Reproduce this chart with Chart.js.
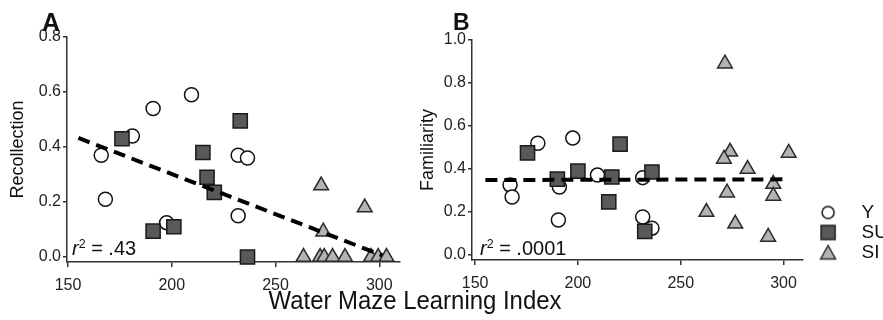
<!DOCTYPE html>
<html><head><meta charset="utf-8">
<script src="https://cdn.jsdelivr.net/npm/chart.js@4.4.0/dist/chart.umd.min.js"></script>
<style>
html,body{margin:0;padding:0;width:883px;height:320px;overflow:hidden;background:#fff;font-family:"Liberation Sans",Arial,sans-serif;}
#wrap{position:relative;width:883px;height:320px;overflow:hidden;}
canvas{position:absolute;top:0;}
#cA{left:0;}
#cB{left:410px;}
.lbl{position:absolute;color:#111;white-space:nowrap;line-height:1;}
sup{font-size:0.62em;vertical-align:0.55em;line-height:0;}
</style></head><body>
<div id="wrap">
<canvas id="cA" width="420" height="320"></canvas>
<canvas id="cB" width="490" height="320"></canvas>
<div class="lbl" style="left:42px;top:10px;font-size:25px;font-weight:bold">A</div>
<div class="lbl" style="left:453px;top:11px;font-size:23px;font-weight:bold">B</div>
<div class="lbl" style="left:72px;top:238px;font-size:20px"><i>r</i><sup>2</sup> = .43</div>
<div class="lbl" style="left:480px;top:238px;font-size:20px"><i>r</i><sup>2</sup> = .0001</div>
<div class="lbl" style="left:415px;top:287px;font-size:26px;transform:translateX(-50%) scaleX(0.92);">Water Maze Learning Index</div>
</div>
<script>
// ---- data ----
const groupNames = ['Y', 'SU', 'SI'];
const xTicks = [150, 200, 250, 300];
const yTicksA = [0, 0.2, 0.4, 0.6, 0.8];
const yTicksB = [0, 0.2, 0.4, 0.6, 0.8, 1.0];

// Panel A: Recollection
const yA_x  = [166, 168, 181, 191, 197.5, 209.5, 232, 236.5, 232];
const yA_y  = [0.37, 0.21, 0.44, 0.54, 0.125, 0.59, 0.37, 0.36, 0.15];
const suA_x = [176, 191, 201, 215, 217, 220.5, 233, 236.5];
const suA_y = [0.43, 0.094, 0.11, 0.38, 0.29, 0.235, 0.495, 0.0];
const siA_x = [272, 293, 273, 263.5, 271.5, 273.5, 277.5, 283.5, 296, 299.5, 303.5];
const siA_y = [0.26, 0.18, 0.092, 0, 0, 0, 0, 0, 0, 0, 0];
const fitA_x = [155, 301.5];
const fitA_y = [0.433, 0.006];

// Panel B: Familiarity
const yB_x  = [167, 168, 180.5, 197.5, 191, 190.5, 209.5, 231.5, 231.5, 236];
const yB_y  = [0.326, 0.27, 0.52, 0.544, 0.316, 0.163, 0.372, 0.36, 0.177, 0.125];
const suB_x = [175.5, 190, 200, 216.5, 215, 220.5, 236, 232.5];
const suB_y = [0.475, 0.353, 0.39, 0.363, 0.247, 0.516, 0.386, 0.11];
const siB_x = [271.5, 274, 271, 302.5, 282.5, 272.5, 295, 295, 262.5, 276.5, 292.5];
const siB_y = [0.89, 0.48, 0.447, 0.475, 0.40, 0.29, 0.33, 0.275, 0.20, 0.145, 0.084];
const fitB_x = [155, 301];
const fitB_y = [0.349, 0.352];

// ---- helpers ----
const FONT = "'Liberation Sans', Arial, sans-serif";
Chart.defaults.font.family = FONT;
const pts = (xs, ys) => xs.map((x, i) => ({x: x, y: ys[i]}));

const styles = {
  Y:  {pointStyle: 'circle',   radius: 7,   bg: '#ffffff', border: '#111111'},
  SU: {pointStyle: 'rect',     radius: 10,  bg: '#595959', border: '#1a1a1a'},
  SI: {pointStyle: 'triangle', radius: 8.5, bg: '#b3b3b3', border: '#2a2a2a'}
};

function scatterSet(name, data, order) {
  const s = styles[name];
  return {
    type: 'scatter', label: name, data: data, order: order, clip: false,
    pointStyle: s.pointStyle, pointRadius: s.radius, pointHoverRadius: s.radius,
    pointBackgroundColor: s.bg, pointBorderColor: s.border, pointBorderWidth: 1.5,
    backgroundColor: s.bg, borderColor: s.border
  };
}
function fitSet(data) {
  return {
    type: 'line', label: 'fit', data: data, order: 0, clip: false, showLine: true,
    borderColor: '#000', borderWidth: 4, borderDash: [12, 7], pointRadius: 0, fill: false
  };
}
function fixedTicks(arr) { return function(scale) { scale.ticks = arr.map(v => ({value: v})); }; }

function makeScales(xMin, xMax, yMin, yMax, yTicks, yTitle, yWidth, xHeight) {
  return {
    x: {
      type: 'linear', min: xMin, max: xMax,
      afterBuildTicks: fixedTicks(xTicks),
      afterFit: s => { s.height = xHeight; },
      grid: {drawOnChartArea: false, drawTicks: true, tickLength: 5, color: '#333', lineWidth: 1.5},
      border: {display: true, color: '#333', width: 1.5},
      ticks: {padding: 9, color: '#222', font: {family: FONT, size: 16}, maxRotation: 0, autoSkip: false,
              callback: v => String(v)}
    },
    y: {
      type: 'linear', min: yMin, max: yMax,
      afterBuildTicks: fixedTicks(yTicks),
      afterFit: s => { s.width = yWidth; },
      grid: {drawOnChartArea: false, drawTicks: true, tickLength: 4, color: '#333', lineWidth: 1.5},
      border: {display: true, color: '#333', width: 1.5},
      ticks: {padding: 2, color: '#222', font: {family: FONT, size: 16}, autoSkip: false,
              callback: v => Number(v).toFixed(1)},
      title: {display: true, text: yTitle, color: '#111', font: {family: FONT, size: 18}, padding: {top: 7, bottom: 0}}
    }
  };
}

// legend marker images
function markerImg(kind) {
  const c = document.createElement('canvas');
  c.width = 18; c.height = 18;
  const g = c.getContext('2d');
  g.lineWidth = 1.5;
  const s = styles[kind];
  g.fillStyle = s.bg; g.strokeStyle = s.border;
  g.beginPath();
  if (kind === 'Y') { g.arc(9, 9, 6, 0, Math.PI * 2); }
  else if (kind === 'SU') { g.rect(2, 2, 14, 14); }
  else { g.moveTo(9, 2); g.lineTo(16.5, 15.5); g.lineTo(1.5, 15.5); g.closePath(); }
  g.fill(); g.stroke();
  return c;
}
const legendImgs = groupNames.map(markerImg);

// small vertical nudge of the legend block
const legendNudge = {
  id: 'legendNudge',
  afterLayout(chart) {
    const l = chart.legend;
    if (l && chart.options.plugins.legend.display) { l.top += 3; l.bottom += 3; }
  }
};

// ---- Chart A ----
new Chart(document.getElementById('cA'), {
  type: 'scatter',
  data: {datasets: [
    fitSet(pts(fitA_x, fitA_y)),
    scatterSet('Y', pts(yA_x, yA_y), 3),
    scatterSet('SU', pts(suA_x, suA_y), 2),
    scatterSet('SI', pts(siA_x, siA_y), 1)
  ]},
  options: {
    responsive: false, animation: false, devicePixelRatio: 1,
    layout: {padding: {left: 0, top: 37, right: 20, bottom: 0}},
    plugins: {legend: {display: false}, tooltip: {enabled: false}},
    scales: makeScales(149.5, 310, -0.018, 0.8, yTicksA, 'Recollection', 67, 58)
  }
});

// ---- Chart B ----
new Chart(document.getElementById('cB'), {
  type: 'scatter',
  data: {datasets: [
    fitSet(pts(fitB_x, fitB_y)),
    scatterSet('Y', pts(yB_x, yB_y), 3),
    scatterSet('SU', pts(suB_x, suB_y), 2),
    scatterSet('SI', pts(siB_x, siB_y), 1)
  ]},
  plugins: [legendNudge],
  options: {
    responsive: false, animation: false, devicePixelRatio: 1,
    layout: {padding: {left: 0, top: 40, right: 2, bottom: 0}},
    plugins: {
      tooltip: {enabled: false},
      legend: {
        display: true, position: 'right', align: 'end', fullSize: false,
        labels: {
          usePointStyle: true, pointStyleWidth: 48, padding: 1, color: '#111',
          font: {family: FONT, size: 19},
          generateLabels: () => groupNames.map((t, i) => ({
            text: t, pointStyle: legendImgs[i], fillStyle: styles[t].bg, strokeStyle: styles[t].border,
            lineWidth: 1.5, hidden: false, datasetIndex: i + 1, fontColor: '#111'
          }))
        }
      }
    },
    scales: makeScales(148.5, 309.5, -0.023, 1.0, yTicksB, 'Familiarity', 62, 60)
  }
});
</script>
</body></html>
